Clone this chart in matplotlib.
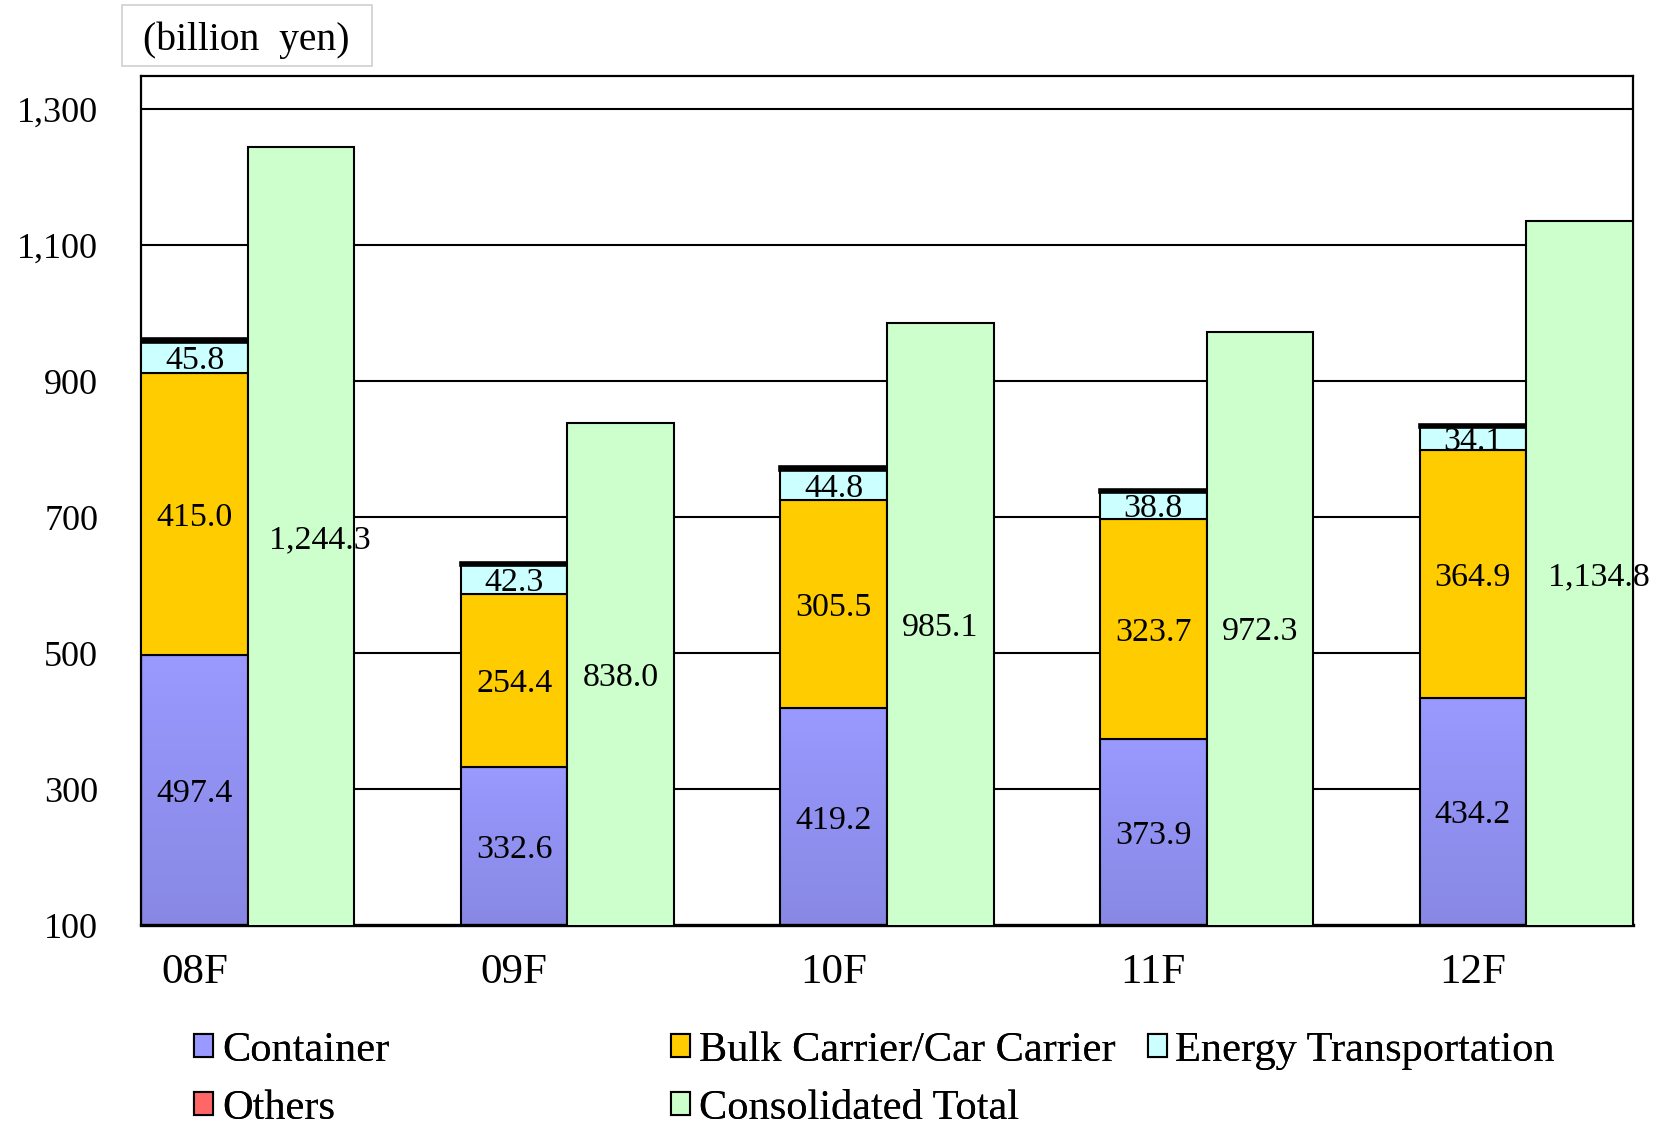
import numpy as np
import matplotlib
matplotlib.use("Agg")
import matplotlib.pyplot as plt
from matplotlib.patches import Patch, Rectangle

plt.rcParams['font.family'] = ['Liberation Serif', 'DejaVu Serif']

categories = ['08F', '09F', '10F', '11F', '12F']
container = [497.4, 332.6, 419.2, 373.9, 434.2]
bulk = [415.0, 254.4, 305.5, 323.7, 364.9]
energy = [45.8, 42.3, 44.8, 38.8, 34.1]
others = [4.0, 3.0, 4.0, 3.0, 3.0]
total = [1244.3, 838.0, 985.1, 972.3, 1134.8]

c_container = '#9999FF'
c_bulk = '#FFCC00'
c_energy = '#CCFFFF'
c_others = '#FF6666'
c_total = '#CCFFCC'

ymin, ymax = 100, 1348

fig = plt.figure(figsize=(16.66, 11.31), dpi=100)
ax = fig.add_axes([0.0848, 0.1818, 0.8952, 0.7506])

x = np.arange(len(categories))
w = 1 / 3
xs = x - w / 2
xt = x + w / 2

container = np.array(container)
bulk = np.array(bulk)
energy = np.array(energy)
others = np.array(others)

# stacked bars
b_cont = ax.bar(xs, container, w, facecolor='none', edgecolor='black', lw=1.5, zorder=3)
ax.bar(xs, bulk, w, bottom=container, color=c_bulk, edgecolor='black', lw=1.5, zorder=3)
ax.bar(xs, energy, w, bottom=container + bulk, color=c_energy, edgecolor='black', lw=1.5, zorder=3)
ax.bar(xs, others, w, bottom=container + bulk + energy, color=c_others, edgecolor='black', lw=2.6, zorder=3)
ax.bar(xt, total, w, color=c_total, edgecolor='black', lw=1.5, zorder=3)

# gradient fill for container bars
grad = np.linspace(0, 1, 100).reshape(-1, 1)
top_rgb = np.array([153, 153, 255]) / 255
bot_rgb = np.array([136, 136, 228]) / 255
img = (grad[..., None] * top_rgb + (1 - grad[..., None]) * bot_rgb)
for r in b_cont:
    x0 = r.get_x()
    ax.imshow(img, extent=[x0, x0 + w, ymin, r.get_height()], origin='lower',
              aspect='auto', zorder=2.5)

ax.set_xlim(-w, len(categories) - 1 + w)
ax.set_ylim(ymin, ymax)

# value labels
fs = 24.5
kw = dict(ha='center', va='center_baseline', fontsize=fs, zorder=5)
for i in range(len(categories)):
    ax.text(xs[i], (ymin + container[i]) / 2, f'{container[i]:.1f}', **kw)
    ax.text(xs[i], container[i] + bulk[i] / 2, f'{bulk[i]:.1f}', **kw)
    ax.text(xs[i], container[i] + bulk[i] + energy[i] / 2, f'{energy[i]:.1f}', **kw)
    dx = 0.06 if total[i] >= 1000 else 0
    ax.text(xt[i] + dx, (ymin + total[i]) / 2, f'{total[i]:,.1f}', **kw)

ax.set_yticks([100, 300, 500, 700, 900, 1100, 1300])
ax.set_yticklabels([f'{v:,}' for v in [100, 300, 500, 700, 900, 1100, 1300]], fontsize=26)
ax.set_xticks(xs)
ax.set_xticklabels(categories, fontsize=31)
ax.tick_params(axis='y', length=0, pad=31)
ax.tick_params(axis='x', length=0, pad=20)

for yv in [300, 500, 700, 900, 1100, 1300]:
    ax.axhline(yv, color='black', lw=1.5, zorder=1)

for s in ['left', 'top', 'right']:
    ax.spines[s].set_linewidth(1.6)
ax.spines['bottom'].set_linewidth(2.4)

# unit box
fig.patches.append(Rectangle((0.0732, 0.9416), 0.150, 0.0539, transform=fig.transFigure,
                             facecolor='white', edgecolor='#d0d0d0', lw=1.2))
fig.text(0.1476, 0.964, '(billion  yen)', ha='center', va='center', fontsize=28.5)

# legend, one entry per slot
items = [
    ('Container', c_container, 0.1166, 0.071),
    ('Bulk Carrier/Car Carrier', c_bulk, 0.403, 0.071),
    ('Energy Transportation', c_energy, 0.689, 0.071),
    ('Others', c_others, 0.1166, 0.02),
    ('Consolidated Total', c_total, 0.403, 0.02),
]
for label, col, lx, ly in items:
    leg = fig.legend(handles=[Patch(facecolor=col, edgecolor='black', lw=1.5)], labels=[label],
                     loc='center left', bbox_to_anchor=(lx, ly), frameon=False, fontsize=30.5,
                     handlelength=0.45, handleheight=0.45, handletextpad=0.2, borderpad=0,
                     borderaxespad=0)
    fig.add_artist(leg)

fig.savefig('out.png', dpi=100)
